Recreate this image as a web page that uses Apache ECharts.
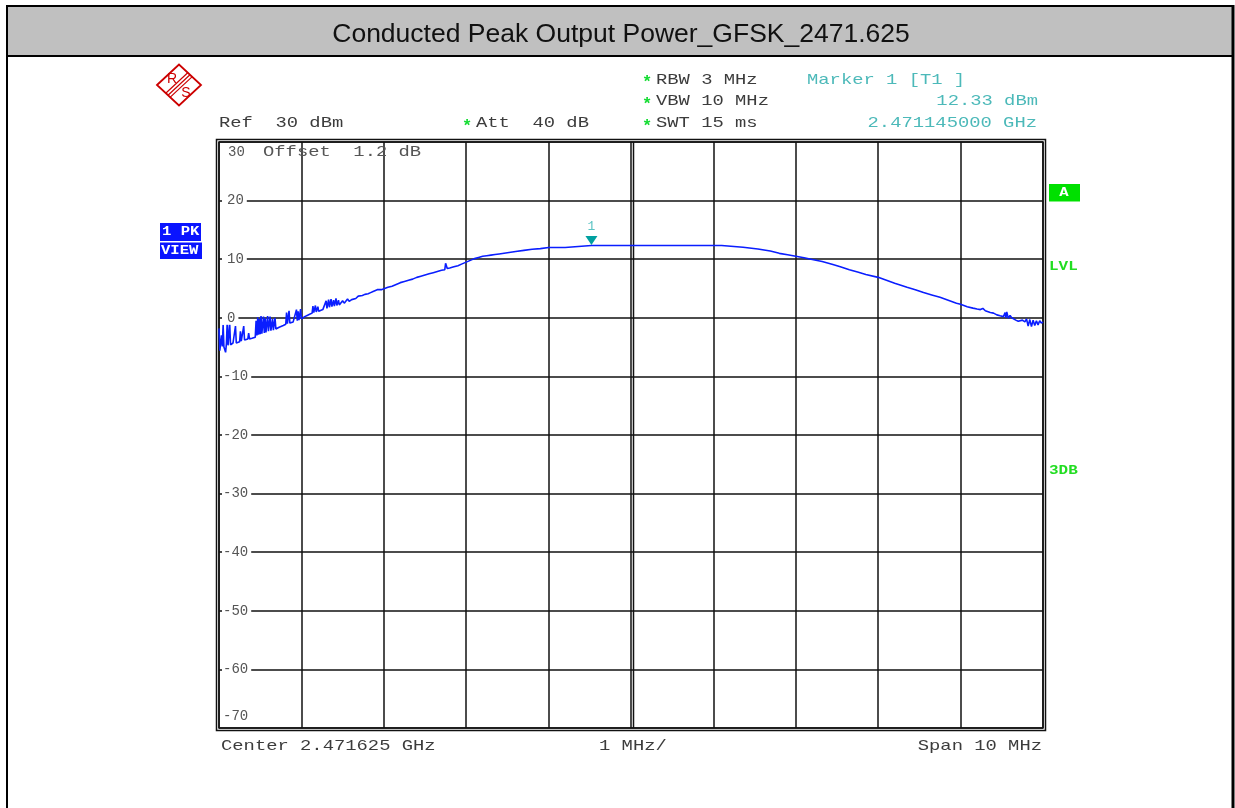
<!DOCTYPE html>
<html>
<head>
<meta charset="utf-8">
<script src="https://cdn.jsdelivr.net/npm/echarts@6/dist/echarts.min.js"></script>
<style>
  html, body { margin: 0; padding: 0; background: #fff; }
  #chart { width: 1235px; height: 808px; }
</style>
</head>
<body>
<div id="chart"></div>
<script>
// Spectrum analyzer screen: conducted peak output power, GFSK, 2471.625 MHz
const chartTitle = 'Conducted Peak Output Power_GFSK_2471.625';
const centerFreqGHz = 2.471625;
const spanMHz = 10;
const refLevelDbm = 30;
const attDb = 40;
const offsetDb = 1.2;
const rbwMHz = 3;
const vbwMHz = 10;
const sweepMs = 15;
const levelTicks = [30, 20, 10, 0, -10, -20, -30, -40, -50, -60, -70];

// Trace 1 (max peak), frequency as offset from center in MHz
const freqOffsetMHz = [
  -5.00, -4.99, -4.97, -4.96, -4.95, -4.94, -4.92, -4.91, -4.90, -4.89,
  -4.88, -4.87, -4.86, -4.84, -4.83, -4.81, -4.80, -4.79, -4.77, -4.75,
  -4.74, -4.73, -4.71, -4.70, -4.69, -4.67, -4.65, -4.64, -4.63, -4.61,
  -4.60, -4.58, -4.56, -4.55, -4.54, -4.53, -4.52, -4.51, -4.50, -4.49,
  -4.48, -4.46, -4.45, -4.44, -4.43, -4.41, -4.40, -4.38, -4.37, -4.35,
  -4.34, -4.32, -4.31, -4.29, -4.27, -4.25, -4.22, -4.19, -4.18, -4.17,
  -4.15, -4.14, -4.12, -4.10, -4.08, -4.06, -4.05, -4.04, -4.03, -4.01,
  -4.00, -3.98, -3.96, -3.93, -3.90, -3.87, -3.86, -3.85, -3.83, -3.82,
  -3.80, -3.79, -3.77, -3.74, -3.72, -3.70, -3.69, -3.67, -3.66, -3.64,
  -3.63, -3.61, -3.60, -3.58, -3.57, -3.55, -3.54, -3.52, -3.50, -3.48,
  -3.46, -3.44, -3.42, -3.39, -3.37, -3.34, -3.31, -3.29, -3.26, -3.23,
  -3.21, -3.19, -3.16, -3.13, -3.11, -3.08, -3.06, -3.03, -3.01,
  -2.95, -2.90, -2.85, -2.80, -2.75, -2.70, -2.65, -2.60, -2.55, -2.50,
  -2.45, -2.40, -2.35, -2.30, -2.26, -2.25, -2.23, -2.20, -2.15, -2.10,
  -2.05, -2.00, -1.95, -1.90, -1.85, -1.80, -1.75, -1.70, -1.65, -1.60,
  -1.50, -1.40, -1.30, -1.20, -1.10, -1.00, -0.90, -0.80, -0.79, -0.48,
  0.00, 0.50, 1.00, 1.10, 1.11, 1.36, 1.37, 1.54, 1.55, 1.69,
  1.70, 1.80, 1.90, 2.00, 2.10, 2.20, 2.32, 2.45, 2.54,
  2.65, 2.75, 2.85, 3.00, 3.10, 3.20, 3.35, 3.45, 3.55, 3.65,
  3.75, 3.85, 3.95, 4.00, 4.08, 4.15, 4.20, 4.22, 4.24, 4.27,
  4.30, 4.36, 4.40, 4.44, 4.48, 4.52, 4.54, 4.55, 4.56, 4.58,
  4.60, 4.62, 4.64, 4.67, 4.70, 4.72, 4.75, 4.78, 4.80, 4.82,
  4.84, 4.86, 4.88, 4.90, 4.92, 4.94, 4.96, 4.98, 5.00
];
const levelDbm = [
  -1.8, -5.6, -3.0, -4.9, -1.2, -5.0, -5.9, -4.4, -0.6, -4.7,
  -4.6, -1.0, -4.6, -4.5, -4.3, -4.4, -1.4, -4.3, -4.2, -4.1,
  -2.3, -4.0, -3.9, -1.4, -3.8, -3.9, -3.6, -2.6, -3.6, -3.4,
  -3.5, -3.2, -3.3, -0.5, -3.0, 0.1, -2.9, -0.2, -2.8, 0.3,
  -2.7, 0.2, -2.6, -0.1, -2.5, 0.3, -2.3, 0.2, -2.2, -0.2,
  -2.1, 0.0, -1.9, -1.7, -1.6, -1.5, -1.3, -1.1, 0.9, -1.0,
  1.2, -0.9, -0.8, -0.7, -0.6, 1.4, -0.5, 1.1, -0.4, 1.5,
  -0.2, 0.0, 0.2, 0.4, 0.6, 0.8, 2.0, 0.9, 2.1, 1.0,
  1.9, 1.1, 1.2, 1.4, 1.5, 2.9, 1.6, 3.1, 1.8, 3.2,
  1.9, 3.0, 2.0, 3.3, 2.1, 3.0, 2.2, 2.3, 2.9, 2.5,
  2.7, 3.2, 2.8, 3.1, 3.4, 3.3, 3.7, 3.6, 3.8, 4.0,
  4.3, 4.1, 4.3, 4.5, 4.4, 4.8, 4.6, 4.8, 4.9,
  5.2, 5.4, 5.7, 6.0, 6.2, 6.4, 6.6, 6.9, 7.1, 7.3,
  7.5, 7.7, 7.9, 8.1, 8.2, 9.3, 8.4, 8.5, 8.7, 8.9,
  9.2, 9.5, 9.8, 10.1, 10.3, 10.5, 10.6, 10.7, 10.8, 10.9,
  11.1, 11.3, 11.5, 11.7, 11.8, 12.0, 12.0, 12.0, 12.33, 12.33,
  12.33, 12.33, 12.33, 12.33, 12.15, 12.05, 11.95, 11.75, 11.6, 11.4,
  11.3, 11.0, 10.75, 10.5, 10.25, 9.95, 9.6, 9.1, 8.7,
  8.2, 7.8, 7.4, 6.9, 6.4, 5.9, 5.2, 4.8, 4.3, 3.9,
  3.5, 3.0, 2.5, 2.3, 1.9, 1.65, 1.5, 1.8, 1.4, 1.6,
  1.2, 0.9, 0.8, 0.5, 0.34, 0.2, 0.9, 0.0, 1.0, -0.1,
  0.4, 0.0, 0.05, -0.4, -0.6, -0.8, -0.4, -0.7, -0.2, -1.4,
  -0.3, -1.5, -0.4, -1.3, -0.5, -1.2, -0.5, -0.9, -0.7
];

// Marker 1 (peak)
const markerFreqGHz = 2.471145;
const markerLevelDbm = 12.33;

const MONO = '"Liberation Mono", "DejaVu Sans Mono", monospace';
const INFO_COLOR = '#3c3c3c';
const MARKER_TEXT = '#4cb9b9';
const STAR_GREEN = '#14dc32';
const SOFTKEY_GREEN = '#00e000';
const GRID_LINE = '#111';
const STRETCH = 1.255;

const halfSpan = spanMHz / 2;
const markerOffsetMHz = Math.round((markerFreqGHz - centerFreqGHz) * 1e6) / 1e3;
const traceData = freqOffsetMHz.map((f, i) => [f, levelDbm[i]]);

// Instrument-style annotation text (wide monospaced glyphs)
function infoText(text, x, y, opts) {
  opts = opts || {};
  return {
    type: 'text', x: x, y: y, scaleX: opts.scaleX || STRETCH, silent: true, z: 10,
    style: {
      text: text,
      font: (opts.weight || 'normal') + ' ' + (opts.size || 15) + 'px ' + MONO,
      fill: opts.color || INFO_COLOR,
      textAlign: opts.align || 'left',
      textVerticalAlign: 'middle'
    }
  };
}
function star(x, y) {
  return infoText('*', x - 1, y + 4, { color: STAR_GREEN, weight: 'bold', size: 17, scaleX: 1 });
}

const chart = echarts.init(document.getElementById('chart'), null, { renderer: 'canvas' });

const staticGraphics = [
  // window frame and title bar
  { type: 'rect', shape: { x: 7, y: 6, width: 1225, height: 50 }, style: { fill: '#c0c0c0' }, silent: true },
  { type: 'rect', shape: { x: 6, y: 5, width: 1228, height: 2 }, style: { fill: '#000' }, silent: true },
  { type: 'rect', shape: { x: 6, y: 55, width: 1228, height: 2 }, style: { fill: '#000' }, silent: true },
  { type: 'rect', shape: { x: 6, y: 5, width: 2, height: 803 }, style: { fill: '#000' }, silent: true },
  { type: 'rect', shape: { x: 1231.5, y: 5, width: 3, height: 803 }, style: { fill: '#000' }, silent: true },
  {
    type: 'text', x: 621, y: 35, silent: true,
    style: { text: chartTitle, font: '26.5px "Liberation Sans", Arial, sans-serif', fill: '#111',
             textAlign: 'center', textVerticalAlign: 'middle' }
  },
  // manufacturer logo
  {
    type: 'group', x: 179, y: 85, silent: true,
    children: [
      { type: 'polygon', shape: { points: [[-22, 0], [0, -20.5], [22, 0], [0, 20.5]] },
        style: { fill: 'none', stroke: '#cc0000', lineWidth: 1.8 } },
      { type: 'line', shape: { x1: 9, y1: -12.5, x2: -13, y2: 8 }, style: { stroke: '#cc0000', lineWidth: 1.2 } },
      { type: 'line', shape: { x1: 11, y1: -10.3, x2: -11, y2: 10.2 }, style: { stroke: '#cc0000', lineWidth: 1.2 } },
      { type: 'line', shape: { x1: 13, y1: -8.1, x2: -9, y2: 12.4 }, style: { stroke: '#cc0000', lineWidth: 1.2 } },
      { type: 'text', x: -7, y: -6, style: { text: 'R', font: '14px "Liberation Sans", sans-serif', fill: '#cc0000', textAlign: 'center', textVerticalAlign: 'middle' } },
      { type: 'text', x: 7, y: 8, style: { text: 'S', font: '14px "Liberation Sans", sans-serif', fill: '#cc0000', textAlign: 'center', textVerticalAlign: 'middle' } }
    ]
  },
  // setting readouts
  star(643, 79), infoText('RBW ' + rbwMHz + ' MHz', 656, 80),
  star(643, 101), infoText('VBW ' + vbwMHz + ' MHz', 656, 101),
  star(643, 123), infoText('SWT ' + sweepMs + ' ms', 656, 123),
  infoText('Ref  ' + refLevelDbm + ' dBm', 219, 123),
  star(463, 123), infoText('Att  ' + attDb + ' dB', 476, 123),
  infoText('Marker 1 [T1 ]', 807, 80, { color: MARKER_TEXT }),
  infoText(markerLevelDbm.toFixed(2) + ' dBm', 1038, 101, { color: MARKER_TEXT, align: 'right' }),
  infoText(markerFreqGHz.toFixed(9) + ' GHz', 1037, 123, { color: MARKER_TEXT, align: 'right' }),
  infoText('Offset  ' + offsetDb.toFixed(1) + ' dB', 263, 152, { color: '#555' }),
  infoText(String(levelTicks[0]), 228, 152, { color: '#555', size: 14, scaleX: 1 }),
  infoText(String(levelTicks[levelTicks.length - 1]), 223, 716, { color: '#555', size: 14, scaleX: 1 }),
  // frequency axis readouts
  infoText('Center ' + centerFreqGHz.toFixed(6) + ' GHz', 221, 746),
  infoText((spanMHz / 10) + ' MHz/', 599, 746),
  infoText('Span ' + spanMHz + ' MHz', 1042, 746, { align: 'right' }),
  // trace / screen softkeys
  { type: 'rect', shape: { x: 160, y: 223, width: 41, height: 18 }, style: { fill: '#0a14ff' }, silent: true },
  infoText('1 PK', 162, 232, { color: '#fff', weight: 'bold', size: 12, scaleX: 1.3 }),
  { type: 'rect', shape: { x: 160, y: 242.5, width: 42, height: 16.5 }, style: { fill: '#0a14ff' }, silent: true },
  infoText('VIEW', 161, 250.5, { color: '#fff', weight: 'bold', size: 12, scaleX: 1.3 }),
  { type: 'rect', shape: { x: 1049, y: 184, width: 31, height: 17.5 }, style: { fill: SOFTKEY_GREEN }, silent: true },
  infoText('A', 1064, 193, { color: '#fff', weight: 'bold', size: 12, scaleX: 1.3, align: 'center' }),
  infoText('LVL', 1049, 266.5, { color: '#22dd22', weight: 'bold', size: 12, scaleX: 1.33 }),
  infoText('3DB', 1049, 471, { color: '#22dd22', weight: 'bold', size: 12, scaleX: 1.33 })
];

const option = {
  animation: false,
  backgroundColor: '#fff',
  grid: { left: 219, right: 192, top: 142, bottom: 80, show: true, borderColor: GRID_LINE, borderWidth: 1.5, backgroundColor: 'transparent' },
  xAxis: {
    type: 'value', min: -halfSpan, max: halfSpan, interval: 1,
    axisLine: { show: false }, axisTick: { show: false }, axisLabel: { show: false },
    splitLine: { show: true, lineStyle: { color: GRID_LINE, width: 1.5 } }
  },
  yAxis: [
    {
      type: 'value', min: levelTicks[levelTicks.length - 1], max: levelTicks[0], interval: 10,
      axisLine: { show: false }, axisTick: { show: false }, axisLabel: { show: false },
      splitLine: { show: true, lineStyle: { color: GRID_LINE, width: 1.5 } }
    },
    {
      // level labels sitting on the graticule, masking the line behind them
      type: 'value', position: 'left', z: 6,
      min: levelTicks[levelTicks.length - 1], max: levelTicks[0], interval: 10,
      axisLine: { show: false }, axisTick: { show: false }, splitLine: { show: false },
      axisLabel: {
        inside: true, margin: 3, color: '#555', fontFamily: MONO, fontSize: 14,
        backgroundColor: '#fff', padding: [0, 3, 0, 1],
        formatter: function (v) {
          if (v === levelTicks[0] || v === levelTicks[levelTicks.length - 1]) return '';
          return v < 0 ? '{t|' + v + '}' : '{s| }{t|' + v + '}';
        },
        rich: {
          s: { width: 4, fontSize: 14, fontFamily: MONO },
          t: { color: '#555', fontSize: 14, fontFamily: MONO }
        }
      }
    }
  ],
  series: [{
    type: 'line',
    data: traceData,
    symbol: 'none',
    showSymbol: false,
    z: 4,
    lineStyle: { color: '#0a1eff', width: 1.6 },
    markPoint: {
      symbol: 'triangle',
      symbolRotate: 180,
      symbolSize: [12, 9],
      symbolOffset: [0, -5],
      itemStyle: { color: '#00a0a0' },
      label: { show: true, position: 'top', distance: 3, formatter: '1', color: '#5cc4c4', fontFamily: MONO, fontSize: 13 },
      data: [{ coord: [markerOffsetMHz, markerLevelDbm] }]
    }
  }],
  graphic: staticGraphics
};

chart.setOption(option);

// Double-line frame around the graticule and the doubled center line
const topLeft = chart.convertToPixel({ xAxisIndex: 0, yAxisIndex: 0 }, [-halfSpan, levelTicks[0]]);
const botRight = chart.convertToPixel({ xAxisIndex: 0, yAxisIndex: 0 }, [halfSpan, levelTicks[levelTicks.length - 1]]);
const centerX = chart.convertToPixel({ xAxisIndex: 0 }, 0);
const xl = Math.round(topLeft[0]), yt = Math.round(topLeft[1]);
const xr = Math.round(botRight[0]), yb = Math.round(botRight[1]);
chart.setOption({
  graphic: staticGraphics.concat([
    { type: 'rect', silent: true, shape: { x: xl - 2.5, y: yt - 2.5, width: xr - xl + 5, height: yb - yt + 5 },
      style: { fill: 'none', stroke: GRID_LINE, lineWidth: 1.5 } },
    { type: 'line', silent: true, shape: { x1: Math.round(centerX) + 2.5, y1: yt, x2: Math.round(centerX) + 2.5, y2: yb },
      style: { stroke: GRID_LINE, lineWidth: 1.5 } }
  ])
});
</script>
</body>
</html>
